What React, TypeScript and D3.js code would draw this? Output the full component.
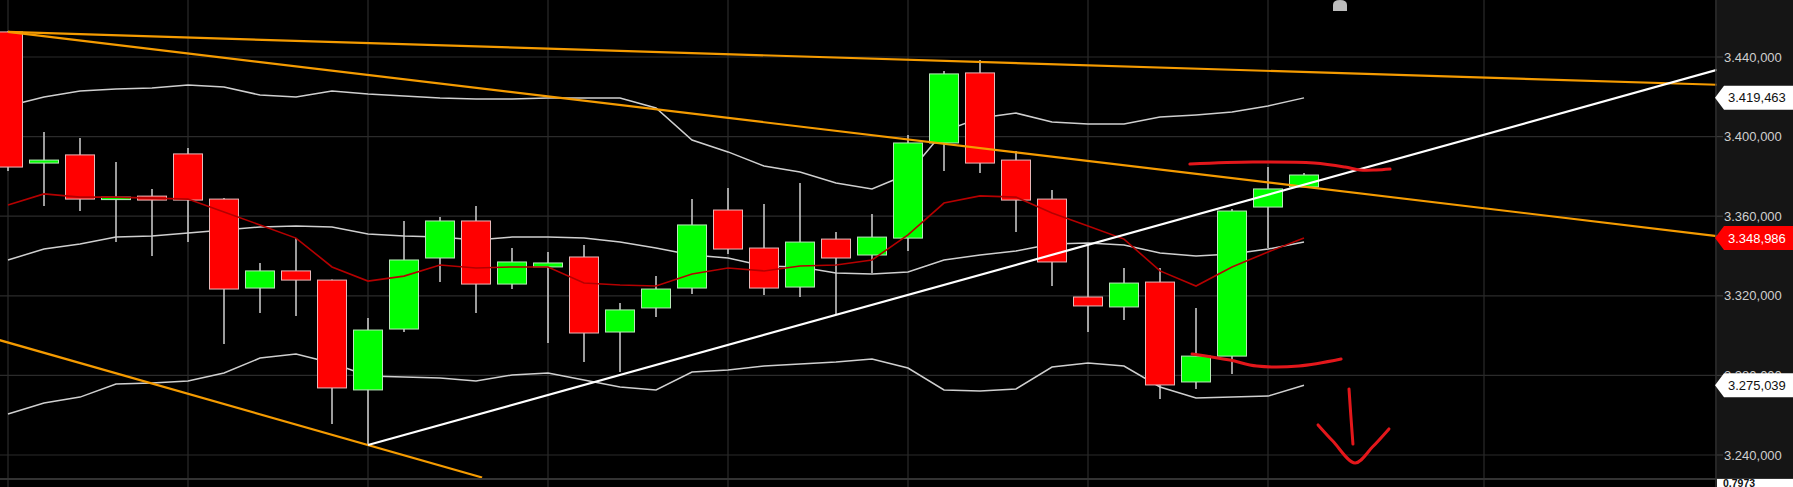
import React from 'react';
import * as d3 from 'd3';

const W = 1793;
const H = 487;
const PLOT_R = 1717;
const PLOT_B = 478;

// OHLC per candle (index 0..36)
const opens = [3.4526, 3.3867, 3.3908, 3.3686, 3.3701, 3.3913, 3.3686, 3.3239, 3.3325, 3.3279, 3.2727, 3.3033, 3.3390, 3.3576, 3.3259, 3.3345, 3.3395, 3.3018, 3.3139, 3.3239, 3.3631, 3.3440, 3.3244, 3.3485, 3.3405, 3.3490, 3.3968, 3.4320, 3.3882, 3.3686, 3.3194, 3.3144, 3.3269, 3.2767, 3.2897, 3.3646, 3.3747];
const highs = [3.4530, 3.4023, 3.3993, 3.3872, 3.3737, 3.3943, 3.3691, 3.3365, 3.3490, 3.3282, 3.3088, 3.3576, 3.3596, 3.3651, 3.3440, 3.3420, 3.3455, 3.3164, 3.3299, 3.3686, 3.3742, 3.3661, 3.3767, 3.3521, 3.3611, 3.4008, 3.4330, 3.4385, 3.3928, 3.3732, 3.3465, 3.3340, 3.3340, 3.3139, 3.3636, 3.3847, 3.3817];
const lows = [3.3827, 3.3651, 3.3626, 3.3470, 3.3400, 3.3470, 3.2958, 3.3114, 3.3098, 3.2556, 3.2450, 3.3018, 3.3269, 3.3114, 3.3234, 3.2963, 3.2867, 3.2817, 3.3093, 3.3209, 3.3410, 3.3204, 3.3194, 3.3104, 3.3315, 3.3425, 3.3827, 3.3817, 3.3521, 3.3249, 3.3018, 3.3078, 3.2681, 3.2732, 3.2807, 3.3440, 3.3747];
const closes = [3.3847, 3.3882, 3.3686, 3.3696, 3.3681, 3.3681, 3.3234, 3.3325, 3.3279, 3.2737, 3.3028, 3.3380, 3.3576, 3.3259, 3.3370, 3.3365, 3.3013, 3.3129, 3.3234, 3.3556, 3.3435, 3.3239, 3.3470, 3.3390, 3.3495, 3.3968, 3.4315, 3.3867, 3.3681, 3.3370, 3.3149, 3.3264, 3.2752, 3.2897, 3.3626, 3.3737, 3.3807];

// Bollinger bands and moving average
const upperBand = [3.4154, 3.4199, 3.4229, 3.4239, 3.4244, 3.4259, 3.4249, 3.4209, 3.4199, 3.4229, 3.4214, 3.4204, 3.4194, 3.4189, 3.4189, 3.4194, 3.4194, 3.4194, 3.4144, 3.3983, 3.3923, 3.3852, 3.3822, 3.3767, 3.3737, 3.3812, 3.4028, 3.4093, 3.4118, 3.4073, 3.4063, 3.4063, 3.4098, 3.4109, 3.4124, 3.4154, 3.419463];
const middleBand = [3.3380, 3.3435, 3.3460, 3.3495, 3.3500, 3.3516, 3.3531, 3.3546, 3.3551, 3.3546, 3.3511, 3.3500, 3.3495, 3.3480, 3.3495, 3.3495, 3.3490, 3.3470, 3.3440, 3.3405, 3.3390, 3.3350, 3.3345, 3.3315, 3.3310, 3.3320, 3.3380, 3.3405, 3.3425, 3.3460, 3.3465, 3.3455, 3.3415, 3.3400, 3.3410, 3.3435, 3.3470];
const lowerBand = [3.2606, 3.2661, 3.2691, 3.2757, 3.2762, 3.2772, 3.2812, 3.2887, 3.2908, 3.2862, 3.2797, 3.2792, 3.2787, 3.2772, 3.2802, 3.2812, 3.2777, 3.2742, 3.2727, 3.2817, 3.2827, 3.2847, 3.2857, 3.2867, 3.2882, 3.2837, 3.2727, 3.2722, 3.2732, 3.2842, 3.2862, 3.2847, 3.2742, 3.2686, 3.2691, 3.2696, 3.275039];
const redMA = [3.3656, 3.3712, 3.3696, 3.3696, 3.3691, 3.3686, 3.3621, 3.3556, 3.3490, 3.3345, 3.3274, 3.3299, 3.3355, 3.3340, 3.3345, 3.3345, 3.3264, 3.3254, 3.3249, 3.3310, 3.3340, 3.3325, 3.3350, 3.3355, 3.3380, 3.3506, 3.3666, 3.3702, 3.3696, 3.3616, 3.3551, 3.3485, 3.3325, 3.3249, 3.3345, 3.3420, 3.348986];

// Price ticks and vertical grid (candle index)
const priceTicks = [3.24, 3.28, 3.32, 3.36, 3.40, 3.44];
const gridIndices = [0, 5, 10, 15, 20, 25, 30, 35, 41];

// Drawn trendlines: anchor points (candle index, price)
const orangeTop = [{ i: 0, p: 3.4526 }, { i: 27, p: 3.4375 }];
const orangeMid = [{ i: 0, p: 3.4526 }, { i: 28, p: 3.3921 }];
const orangeLow = [{ i: -0.25, p: 3.2978 }, { i: 13.17, p: 3.2287 }];
const whiteTrend = [{ i: 10, p: 3.2450 }, { i: 36, p: 3.3758 }];

// Hand-drawn annotations (candle index, price)
const annoTop = [[32.83, 3.3862], [34.58, 3.3872], [36.28, 3.3867], [37.14, 3.3847], [37.56, 3.3832], [38.0, 3.3832], [38.39, 3.3837]];
const annoBottom = [[32.89, 3.2908], [33.94, 3.2877], [34.69, 3.2847], [35.86, 3.2847], [37.03, 3.2882]];
const arrowStem = [[37.25, 3.2732], [37.30, 3.2600], [37.36, 3.2455]];
const arrowHead = [[36.39, 3.2551], [36.8, 3.2470], [37.42, 3.2360], [37.9, 3.2440], [38.36, 3.2531]];

const bottomValue = '0.7973';

function fmt(p: number) {
  const s = p.toFixed(6);
  return s.slice(0, 5) + ',' + s.slice(5);
}

export default function App() {
  const x = d3.scaleLinear().domain([0, 36]).range([8, 1304]);
  const y = d3.scaleLinear().domain([3.24, 3.44]).range([455, 57]);
  const bodyW = 29;

  const seriesLine = d3.line<number>().x((_, i) => x(i)).y((d) => y(d));
  const annoLine = d3
    .line<number[]>()
    .x((d) => x(d[0]))
    .y((d) => y(d[1]))
    .curve(d3.curveCatmullRom);

  const extendRight = (pts: { i: number; p: number }[]) => {
    const [a, b] = pts;
    const slope = (b.p - a.p) / (b.i - a.i);
    const iEnd = x.invert(PLOT_R);
    return { x1: x(a.i), y1: y(a.p), x2: x(iEnd), y2: y(a.p + slope * (iEnd - a.i)) };
  };
  const seg = (pts: { i: number; p: number }[]) => ({
    x1: x(pts[0].i), y1: y(pts[0].p), x2: x(pts[1].i), y2: y(pts[1].p),
  });

  const oTop = extendRight(orangeTop);
  const oMid = extendRight(orangeMid);
  const oLow = seg(orangeLow);
  const wTr = extendRight(whiteTrend);

  const orange = '#f59b00';
  const font = 'Arial, "Liberation Sans", sans-serif';

  const labels = [
    { v: upperBand[upperBand.length - 1], bg: '#ffffff', fg: '#111111' },
    { v: redMA[redMA.length - 1], bg: '#ff0000', fg: '#ffffff' },
    { v: lowerBand[lowerBand.length - 1], bg: '#ffffff', fg: '#111111' },
  ];

  return (
    <svg
      width={W}
      height={H}
      style={{ position: 'absolute', left: 0, top: 0, background: '#000' }}
    >
      <defs>
        <clipPath id="plot">
          <rect x={0} y={0} width={PLOT_R} height={PLOT_B} />
        </clipPath>
      </defs>
      <rect x={0} y={0} width={W} height={H} fill="#000" />
      {/* grid */}
      <g>
        {priceTicks.map((t) => (
          <line key={'h' + t} x1={0} x2={PLOT_R} y1={y(t)} y2={y(t)} stroke="#2b2b2b" strokeWidth={1.2} />
        ))}
        {gridIndices.map((g) => (
          <line key={'v' + g} x1={x(g)} x2={x(g)} y1={0} y2={H} stroke="#2b2b2b" strokeWidth={1.2} />
        ))}
      </g>
      <g clipPath="url(#plot)">
        {/* bands */}
        <path d={seriesLine(upperBand) || ''} fill="none" stroke="#cfcfcf" strokeWidth={1.5} />
        <path d={seriesLine(middleBand) || ''} fill="none" stroke="#cfcfcf" strokeWidth={1.5} />
        <path d={seriesLine(lowerBand) || ''} fill="none" stroke="#cfcfcf" strokeWidth={1.5} />
        {/* candles */}
        {opens.map((o, i) => {
          const c = closes[i];
          const up = c >= o;
          const top = y(Math.max(o, c));
          const bot = y(Math.min(o, c));
          return (
            <g key={i}>
              <line x1={x(i)} x2={x(i)} y1={y(highs[i])} y2={y(lows[i])} stroke="#d0d0d0" strokeWidth={1.5} />
              <rect
                x={x(i) - bodyW / 2}
                y={top}
                width={bodyW}
                height={Math.max(bot - top, 2.5)}
                fill={up ? '#00ff00' : '#ff0000'}
                stroke={up ? '#b8e8b8' : '#e8b8b8'}
                strokeWidth={1}
              />
            </g>
          );
        })}
        <path d={seriesLine(redMA) || ''} fill="none" stroke="#b50000" strokeWidth={1.6} />
        {/* trendlines */}
        <line {...oTop} stroke={orange} strokeWidth={2.2} />
        <line {...oMid} stroke={orange} strokeWidth={2.2} />
        <line {...oLow} stroke={orange} strokeWidth={2.2} />
        <line {...wTr} stroke="#ffffff" strokeWidth={2.2} />
        {/* annotations */}
        <g fill="none" stroke="#e3171b" strokeWidth={3} strokeLinecap="round" strokeLinejoin="round">
          <path d={annoLine(annoTop) || ''} />
          <path d={annoLine(annoBottom) || ''} />
          <path d={annoLine(arrowStem) || ''} />
          <path d={annoLine(arrowHead) || ''} />
        </g>
      </g>
      {/* small icon */}
      <path d="M1333,11 V5 Q1333,0 1340,0 Q1347,0 1347,5 V11 Z" fill="#bdbdbd" />
      {/* bottom separator */}
      <line x1={0} x2={W} y1={PLOT_B + 1} y2={PLOT_B + 1} stroke="#333" strokeWidth={2} />
      {/* axis panel */}
      <rect x={PLOT_R} y={0} width={W - PLOT_R} height={PLOT_B} fill="#151515" />
      <line x1={PLOT_R - 1} x2={PLOT_R - 1} y1={0} y2={H} stroke="#333" strokeWidth={1.5} />
      {priceTicks.map((t) => (
        <g key={'t' + t}>
          <line x1={PLOT_R} x2={PLOT_R + 6} y1={y(t)} y2={y(t)} stroke="#3a3a3a" strokeWidth={1.2} />
          <text x={1724} y={y(t) + 4.5} fill="#cfcfcf" fontSize={13} fontFamily={font}>
            {fmt(t)}
          </text>
        </g>
      ))}
      {labels.map((l, k) => {
        const yc = y(l.v);
        return (
          <g key={'l' + k}>
            <path
              d={`M${PLOT_R - 2},${yc} L${PLOT_R + 7},${yc - 12} L${W},${yc - 12} L${W},${yc + 12} L${PLOT_R + 7},${yc + 12} Z`}
              fill={l.bg}
            />
            <text x={1728} y={yc + 4.5} fill={l.fg} fontSize={13} fontFamily={font}>
              {fmt(l.v)}
            </text>
          </g>
        );
      })}
      <rect x={PLOT_R} y={PLOT_B + 1} width={W - PLOT_R} height={H - PLOT_B} fill="#ffffff" />
      <text x={1723} y={H - 0.5} fill="#111" fontSize={10.5} fontWeight="bold" fontFamily={font}>
        {bottomValue}
      </text>
    </svg>
  );
}
